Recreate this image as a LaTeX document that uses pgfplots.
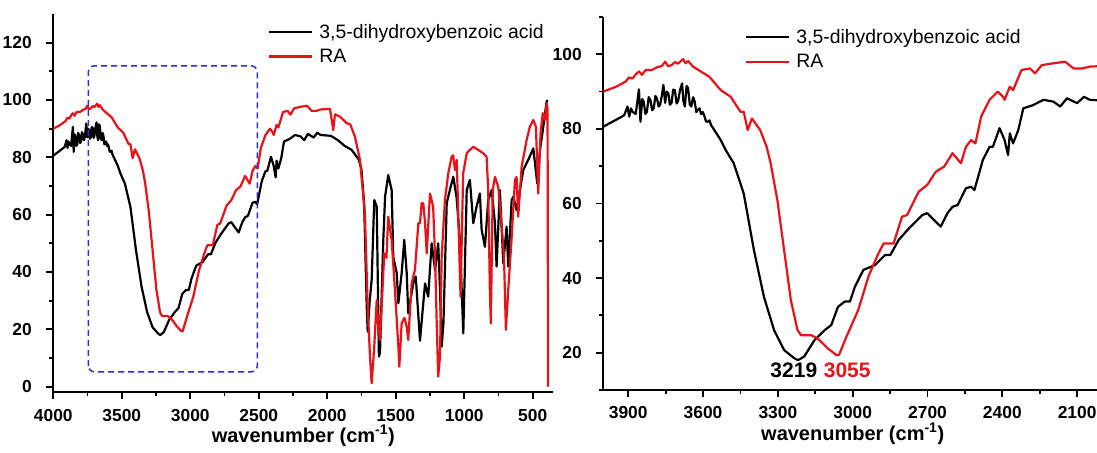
\documentclass[border=0pt]{standalone}
\usepackage{fontspec}
\setmainfont{Liberation Sans}
\usepackage{pgfplots}
\pgfplotsset{compat=1.18}
\usepackage{pgfplotstable}
\definecolor{specred}{RGB}{232,18,24}
\definecolor{boxblue}{RGB}{45,45,205}

% 3,5-dihydroxybenzoic acid
\pgfplotstableread{
wn T
4000 80.6
3975 81.5
3950 82.4
3925 83.3
3916 83.7
3903 86.0
3896 83.3
3889 85.5
3883 84.6
3870 84.0
3863 87.5
3857 90.6
3851 81.9
3844 88.0
3838 87.3
3831 84.0
3825 84.6
3818 88.5
3811 87.7
3804 85.0
3798 85.5
3791 88.8
3785 88.2
3778 86.0
3772 86.5
3765 89.0
3759 91.8
3752 87.0
3746 90.0
3739 89.5
3733 86.5
3726 87.0
3720 90.5
3713 90.4
3706 86.8
3700 87.5
3692 90.5
3684 92.2
3679 87.5
3673 86.0
3666 91.5
3660 90.9
3653 86.5
3647 86.0
3640 88.5
3634 87.5
3627 84.5
3621 85.1
3614 85.5
3608 84.0
3601 84.5
3595 83.5
3588 82.0
3581 81.9
3574 82.3
3568 81.0
3555 79.7
3529 77.0
3509 74.3
3477 70.8
3437 62.7
3396 47.5
3356 35.0
3315 26.0
3275 20.7
3234 18.5
3219 18.0
3194 19.0
3153 23.4
3113 26.0
3086 27.4
3059 32.3
3032 33.7
3011 33.7
2991 37.7
2957 42.2
2910 43.5
2870 46.2
2849 46.2
2816 50.2
2775 53.3
2721 56.9
2701 57.4
2667 55.1
2647 53.8
2620 57.4
2600 59.1
2579 59.6
2546 64.1
2525 64.5
2512 63.6
2478 71.7
2451 75.2
2438 75.2
2411 80.2
2391 77.0
2377 73.0
2370 78.8
2357 76.1
2336 79.7
2316 85.5
2276 86.4
2235 87.8
2195 87.3
2168 86.0
2141 88.2
2100 86.9
2073 88.6
2049 87.8
1974 87.5
1923 86.0
1873 84.0
1822 82.6
1771 79.3
1751 76.0
1731 64.0
1712 28.0
1705 19.2
1690 30.0
1676 37.2
1657 65.1
1639 62.8
1623 10.5
1615 12.0
1591 51.2
1578 66.3
1555 73.8
1530 68.6
1518 45.3
1493 39.6
1481 29.1
1457 39.6
1438 51.2
1420 39.6
1409 25.6
1372 36.1
1354 38.4
1323 16.0
1305 26.0
1286 36.0
1263 31.4
1238 50.0
1213 40.7
1190 50.0
1177 33.7
1165 14.0
1152 22.1
1128 64.0
1105 68.6
1080 73.2
1056 66.0
1032 51.2
1007 18.6
982 68.6
959 72.1
934 57.0
910 62.8
886 67.4
873 54.7
849 48.8
825 65.1
800 68.6
776 57.0
764 41.9
740 68.6
715 43.0
691 55.8
679 41.9
654 65.1
642 66.3
618 61.6
569 75.6
533 79.1
496 83.1
467 70.9
447 82.6
423 90.7
399 99.4
392 100.0
}\dhba

% RA
\pgfplotstableread{
wn T
4000 90.0
3949 91.3
3910 92.7
3897 93.8
3883 93.5
3870 94.6
3857 95.4
3845 94.5
3830 95.8
3805 95.8
3785 96.5
3765 96.9
3752 98.0
3740 96.8
3726 97.1
3713 97.9
3700 97.5
3680 98.7
3670 97.6
3660 98.2
3640 96.7
3607 95.3
3575 94.0
3529 90.4
3489 88.6
3450 84.6
3437 84.6
3421 79.7
3404 82.8
3371 79.7
3345 75.2
3329 70.8
3302 60.9
3275 47.5
3248 34.1
3221 26.0
3207 24.7
3167 24.7
3140 23.8
3099 21.1
3066 19.4
3055 19.4
3025 24.3
2978 31.4
2937 40.4
2897 46.6
2876 49.3
2836 49.3
2802 56.5
2782 56.9
2735 63.2
2701 65.0
2667 68.5
2633 69.9
2600 73.5
2566 70.8
2546 75.2
2525 77.0
2508 76.1
2485 83.3
2451 87.8
2418 90.0
2397 88.6
2391 87.8
2370 91.3
2357 90.4
2323 95.8
2289 96.2
2269 94.9
2242 97.1
2195 97.6
2148 98.0
2114 96.2
2080 96.2
2049 96.7
1980 96.9
1956 89.5
1944 95.0
1907 94.2
1858 91.9
1832 91.5
1798 87.2
1761 79.1
1725 60.0
1705 27.9
1688 10.5
1676 1.2
1657 14.0
1639 30.2
1629 22.0
1615 16.3
1603 27.9
1584 46.5
1568 45.0
1555 59.3
1530 51.2
1506 33.7
1481 14.0
1474 7.0
1457 22.1
1437 24.0
1420 20.9
1409 16.3
1384 36.1
1360 40.7
1335 57.0
1323 57.0
1311 64.0
1299 64.0
1286 57.0
1274 46.5
1250 67.4
1227 62.8
1213 45.3
1201 22.1
1190 3.5
1177 10.5
1165 45.3
1141 65.1
1117 74.4
1092 80.2
1081 80.7
1068 75.6
1055 79.1
1032 39.6
1027 31.4
1008 74.4
982 81.4
959 82.6
934 83.7
898 82.6
861 81.4
837 80.2
825 68.6
813 33.7
806 22.1
792 68.6
776 73.2
752 69.7
728 57.0
710 45.3
696 19.8
679 33.7
655 51.2
630 72.1
618 73.2
606 59.3
581 76.7
545 86.0
521 90.7
496 93.0
477 90.7
460 67.4
443 88.4
427 95.4
411 93.0
399 98.8
392 97.0
388 0.0
}\ra

\pgfplotsset{
  irstyle/.style={
    scale only axis,
    x dir=reverse,
    axis x line*=bottom, axis y line*=left,
    axis line style={-, line width=2bp},
    tick style={line width=1.8bp, black},
    tick align=outside,
    tick pos=left,
    major tick length=7bp, minor tick length=4bp,
    /pgf/number format/assume math mode=true,
    /pgf/number format/1000 sep={},
    tick label style={font=\bfseries\fontsize{17.4bp}{19bp}\selectfont},
    xticklabel style={yshift=-6bp},
    yticklabel style={xshift=-11bp},
    xlabel={wavenumber (cm\textsuperscript{-1})},
    xlabel style={font=\bfseries\fontsize{20bp}{22bp}\selectfont,
      at={(axis description cs:0.5,0)}, anchor=base, yshift=-50bp},
    legend cell align=left,
    legend style={draw=none, fill=none, inner sep=0pt,
      font=\fontsize{19.4bp}{22bp}\selectfont,
      nodes={inner sep=0pt}, column sep=6bp, row sep=9.5bp, anchor=west},
  },
  blk/.style={black, line width=2.2bp, line join=round,
    legend image code/.code={\draw[##1] (0bp,0bp) -- (43bp,0bp);}},
  rd/.style={specred, line width=2.2bp, line join=round,
    legend image code/.code={\draw[##1] (0bp,0bp) -- (43bp,0bp);}},
}

\begin{document}
\begin{tikzpicture}
\useasboundingbox (0,0) rectangle (1097bp,453bp);

\begin{axis}[irstyle,
  at={(53.3bp,60.6bp)}, anchor=south west,
  width=500bp, height=378.4bp,
  xmin=350, xmax=4000, ymin=-2, ymax=130,
  xtick={500,1000,...,4000}, minor xtick={750,1250,...,3750},
  ytick={0,20,...,120}, minor ytick={10,30,...,110},
  legend style={at={(0.4294,0.9207)}},
]
\addplot[blk] table[x=wn,y=T] {\dhba};
\addlegendentry{3,5-dihydroxybenzoic acid}
\addplot[rd] table[x=wn,y=T] {\ra};
\addlegendentry{RA}
\draw[boxblue, line width=1.5bp, dash pattern=on 6bp off 4bp, rounded corners=6bp]
  (axis cs:3744,5.2) rectangle (axis cs:2511,111.9);
\end{axis}

\begin{axis}[irstyle,
  at={(603.3bp,63bp)}, anchor=south west,
  width=498.8bp, height=373bp,
  xmin=2000, xmax=4000, ymin=10, ymax=110,
  xtick={2100,2400,...,3900}, minor xtick={2250,2550,...,3750},
  ytick={20,40,...,100}, minor ytick={10,30,...,110},
  legend style={at={(0.2841,0.9138)}},
]
\addplot[blk] table[x=wn,y=T] {\dhba};
\addlegendentry{3,5-dihydroxybenzoic acid}
\addplot[rd] table[x=wn,y=T] {\ra};
\addlegendentry{RA}
\node[font=\bfseries\fontsize{21bp}{23bp}\selectfont, black] at (axis cs:3236,15.2) {3219};
\node[font=\bfseries\fontsize{21bp}{23bp}\selectfont, specred] at (axis cs:3022,15.2) {3055};
\end{axis}
\end{tikzpicture}
\end{document}
